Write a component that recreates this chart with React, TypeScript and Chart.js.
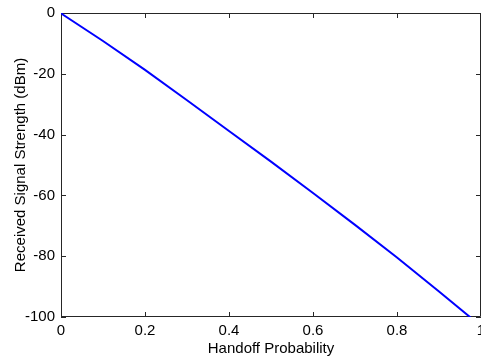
import React, { useEffect, useRef } from "react";
import { Chart, registerables } from "chart.js";

Chart.register(...registerables);

const handoffProbability = [0, 0.005, 0.1, 0.2, 0.3, 0.4, 0.5, 0.6, 0.7, 0.8, 0.9, 1.0];
const signalStrength = [0, -0.6, -9.2, -18.7, -28.7, -38.8, -48.9, -59.2, -69.7, -80.4, -91.6, -103.0];
const xTicks = [0, 0.2, 0.4, 0.6, 0.8, 1];
const yTicks = [-100, -80, -60, -40, -20, 0];

const FONT = "'Liberation Sans', Arial, Helvetica, sans-serif";

const boxPlugin = {
  id: "matlabBox",
  beforeDatasetsDraw(chart: any) {
    const { ctx, chartArea } = chart;
    const { left, right, top, bottom } = chartArea;
    const xs = chart.scales.x;
    const ys = chart.scales.y;
    const tl = 5;
    ctx.save();
    ctx.strokeStyle = "#262626";
    ctx.lineWidth = 1;
    ctx.beginPath();
    ctx.rect(left + 0.5, top + 0.5, right - left - 1, bottom - top - 1);
    for (const v of xTicks) {
      const px = Math.round(xs.getPixelForValue(v)) + 0.5;
      ctx.moveTo(px, bottom);
      ctx.lineTo(px, bottom - tl);
      ctx.moveTo(px, top);
      ctx.lineTo(px, top + tl);
    }
    for (const v of yTicks) {
      const py = Math.round(ys.getPixelForValue(v)) + 0.5;
      ctx.moveTo(left, py);
      ctx.lineTo(left + tl, py);
      ctx.moveTo(right, py);
      ctx.lineTo(right - tl, py);
    }
    ctx.stroke();
    ctx.restore();
  },
};

export default function App() {
  const ref = useRef<HTMLCanvasElement | null>(null);
  useEffect(() => {
    if (!ref.current) return;
    const chart = new Chart(ref.current, {
      type: "line",
      data: {
        datasets: [
          {
            data: handoffProbability.map((x, i) => ({ x, y: signalStrength[i] })),
            borderColor: "#0000ff",
            borderWidth: 2,
            pointRadius: 0,
            fill: false,
            tension: 0,
          },
        ],
      },
      options: {
        responsive: false,
        animation: false,
        maintainAspectRatio: false,
        layout: { padding: { top: 13, right: 0, bottom: 0, left: 0 } },
        plugins: { legend: { display: false }, tooltip: { enabled: false } },
        scales: {
          x: {
            type: "linear",
            min: 0,
            max: 1,
            afterBuildTicks: (s: any) => {
              s.ticks = xTicks.map((v) => ({ value: v }));
            },
            afterFit: (s: any) => {
              s.height = 43;
              s.paddingLeft = 0;
              s.paddingRight = 0;
            },
            grid: { display: false, drawTicks: false },
            border: { display: false },
            ticks: {
              padding: 5,
              color: "#000",
              font: { family: FONT, size: 15 },
              maxRotation: 0,
              autoSkip: false,
              callback: (v: any) => String(v),
            },
            title: {
              display: true,
              text: "Handoff Probability",
              color: "#000",
              font: { family: FONT, size: 15 },
              padding: { top: 0, bottom: 2 },
            },
          },
          y: {
            type: "linear",
            min: -100,
            max: 0,
            afterBuildTicks: (s: any) => {
              s.ticks = yTicks.map((v) => ({ value: v }));
            },
            afterFit: (s: any) => {
              s.width = 61;
              s.paddingTop = 0;
              s.paddingBottom = 0;
            },
            grid: { display: false, drawTicks: false },
            border: { display: false },
            ticks: {
              padding: 6,
              color: "#000",
              font: { family: FONT, size: 15 },
              autoSkip: false,
              callback: (v: any) => String(v),
            },
            title: {
              display: true,
              text: "Received Signal Strength (dBm)",
              color: "#000",
              font: { family: FONT, size: 15 },
              padding: { top: 12, bottom: 0 },
            },
          },
        },
      },
      plugins: [boxPlugin],
    });
    return () => chart.destroy();
  }, []);
  return (
    <div style={{ position: "fixed", left: 0, top: 0, width: 481, height: 360, overflow: "hidden", background: "#fff" }}>
      <canvas ref={ref} width={481} height={360} style={{ width: 481, height: 360, display: "block" }} />
    </div>
  );
}
